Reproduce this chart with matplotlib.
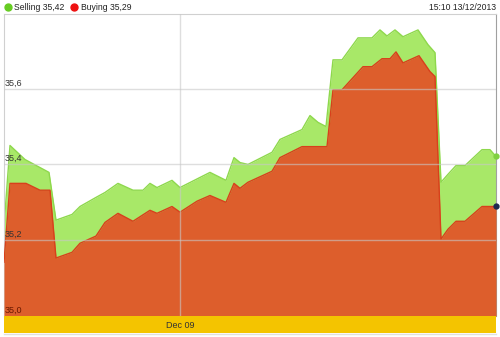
import matplotlib
matplotlib.use("Agg")
from matplotlib import pyplot as plt

plt.rcParams['font.family'] = ['Liberation Sans', 'DejaVu Sans']

# hours relative to Dec 09 00:00
sell_hours = [-35.2, -34.0, -31.0, -26.2, -24.8, -21.6, -20.0, -16.8, -15.0, -12.4,
              -9.4, -7.4, -6.0, -4.6, -1.6, 0.0, 6.0, 9.2, 10.8, 12.0,
              13.6, 18.4, 20.0, 24.4, 26.0, 27.6, 29.2, 30.6, 32.4, 35.6,
              38.4, 40.0, 41.4, 43.0, 44.6, 47.6, 49.6, 51.0, 52.2, 53.6,
              55.2, 57.0, 60.4, 62.0, 63.2]
sell_vals = [35.237, 35.450, 35.413, 35.379, 35.253, 35.268, 35.289, 35.313, 35.326, 35.350,
             35.332, 35.332, 35.350, 35.339, 35.358, 35.339, 35.379, 35.358, 35.418, 35.405,
             35.400, 35.432, 35.466, 35.492, 35.529, 35.511, 35.500, 35.676, 35.676, 35.734,
             35.734, 35.755, 35.739, 35.755, 35.737, 35.755, 35.716, 35.695, 35.353, 35.374,
             35.397, 35.397, 35.439, 35.439, 35.421]

buy_hours = [-35.2, -34.0, -30.8, -28.0, -26.0, -24.8, -21.6, -20.0, -16.8, -15.0,
             -12.4, -9.4, -6.0, -4.6, -1.6, 0.0, 3.4, 6.0, 9.2, 10.8,
             12.0, 13.6, 18.4, 20.0, 24.4, 29.4, 30.6, 32.4, 36.6, 38.4,
             40.4, 42.0, 43.2, 44.6, 47.8, 50.0, 51.0, 52.2, 53.6, 55.2,
             57.0, 60.4, 63.2]
buy_vals = [35.142, 35.350, 35.350, 35.332, 35.332, 35.153, 35.168, 35.192, 35.211, 35.247,
            35.271, 35.250, 35.279, 35.271, 35.289, 35.274, 35.303, 35.318, 35.300, 35.350,
            35.337, 35.353, 35.382, 35.418, 35.447, 35.447, 35.597, 35.597, 35.658, 35.658,
            35.679, 35.679, 35.697, 35.668, 35.687, 35.645, 35.632, 35.203, 35.229, 35.250,
            35.250, 35.289, 35.289]

y_ticks = [35.0, 35.2, 35.4, 35.6]
y_labels = ["35,0", "35,2", "35,4", "35,6"]
x_tick = 0.0
x_label = "Dec 09"
sell_label = "Selling 35,42"
buy_label = "Buying 35,29"
stamp = "15:10 13/12/2013"

W, H = 500, 337
fig = plt.figure(figsize=(W / 100, H / 100), dpi=100)
fig.patch.set_facecolor("white")

def box(x0, y0, x1, y1):
    return [x0 / W, 1 - y1 / H, (x1 - x0) / W, (y1 - y0) / H]

xmin, xmax = sell_hours[0], sell_hours[-1]
ax = fig.add_axes(box(4, 14, 496, 316))
ax.set_xlim(xmin, xmax)
ax.set_ylim(35.0, 35.797)
ax.fill_between(sell_hours, 35.0, sell_vals, color="#a8e868", lw=0, zorder=1)
ax.plot(sell_hours, sell_vals, color="#8ed84c", lw=1, zorder=2)
ax.fill_between(buy_hours, 35.0, buy_vals, color="#dd5e2c", lw=0, zorder=3)
ax.plot(buy_hours, buy_vals, color="#d8401c", lw=1, zorder=4)

for t in y_ticks[1:]:
    ax.axhline(t, color="#c8c8c8", lw=1, alpha=0.6, zorder=5)
ax.axvline(x_tick, color="#c8c8c8", lw=1, alpha=0.6, zorder=5)

for t, lab in zip(y_ticks, y_labels):
    c = "#6a1800" if t == 35.0 else "#333333"
    ax.text(xmin + 0.2, t + 0.003, lab, fontsize=6.5, color=c, ha="left", va="bottom", zorder=6)

ax.plot([sell_hours[-1]], [sell_vals[-1]], "o", ms=3.5, color="#7fd040", zorder=7, clip_on=False)
ax.plot([buy_hours[-1]], [buy_vals[-1]], "o", ms=3.5, color="#1c2a50", zorder=7, clip_on=False)

ax.set_xticks([])
ax.set_yticks([])
for s in ["top", "left"]:
    ax.spines[s].set_color("#d0d0d0")
ax.spines["right"].set_color("#a0a0a0")
ax.spines["bottom"].set_visible(False)

band = fig.add_axes(box(4, 316, 496, 333))
band.set_xlim(xmin, xmax)
band.set_ylim(0, 1)
band.set_facecolor("#f4c400")
band.set_xticks([])
band.set_yticks([])
for s in band.spines.values():
    s.set_visible(False)
band.text(x_tick, 0.45, x_label, fontsize=6.5, color="#333333", ha="center", va="center")
fig.add_artist(plt.Line2D([4 / W, 496 / W], [1 - 334 / H] * 2, color="#e0e0e0", lw=1))

# legend row
fig.add_artist(plt.Line2D([8 / W], [1 - 7 / H], marker="o", ms=5, color="#66cc22", lw=0))
fig.text(14 / W, 1 - 7 / H, sell_label, fontsize=6.2, color="#222222", ha="left", va="center")
fig.add_artist(plt.Line2D([74 / W], [1 - 7 / H], marker="o", ms=5, color="#ee1111", lw=0))
fig.text(81 / W, 1 - 7 / H, buy_label, fontsize=6.2, color="#222222", ha="left", va="center")
fig.text(496 / W, 1 - 7 / H, stamp, fontsize=6.2, color="#222222", ha="right", va="center")

fig.savefig("out.png", dpi=100)
